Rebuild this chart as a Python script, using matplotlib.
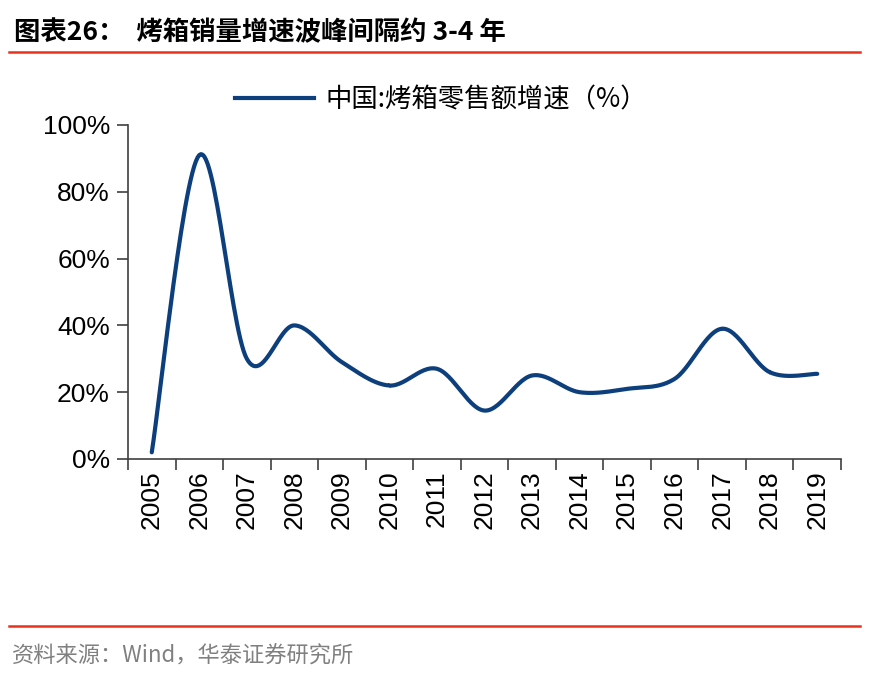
import numpy as np
import matplotlib.pyplot as plt
from matplotlib.lines import Line2D

plt.rcParams['font.family'] = ['Liberation Sans', 'Noto Sans CJK SC', 'DejaVu Sans']

# 数据
years = ['2005', '2006', '2007', '2008', '2009', '2010', '2011', '2012',
         '2013', '2014', '2015', '2016', '2017', '2018', '2019']
growth = [0.02, 0.91, 0.30, 0.40, 0.29, 0.22, 0.27, 0.145,
          0.25, 0.20, 0.21, 0.24, 0.39, 0.26, 0.255]

title = '图表26：  烤箱销量增速波峰间隔约 3-4 年'
legend_label = '中国:烤箱零售额增速（%）'
source = '资料来源：Wind，华泰证券研究所'

line_color = '#0d3f7c'
red = '#e8321e'


# Excel 风格的平滑曲线 (Catmull-Rom)
def smooth(x, y, n=30):
    x = np.asarray(x, float)
    y = np.asarray(y, float)
    px = np.concatenate([[x[0]], x, [x[-1]]])
    py = np.concatenate([[y[0]], y, [y[-1]]])
    xs, ys = [], []
    t = np.linspace(0, 1, n)
    for i in range(1, len(px) - 2):
        for p, out in ((px, xs), (py, ys)):
            p0, p1, p2, p3 = p[i - 1], p[i], p[i + 1], p[i + 2]
            out.extend(0.5 * (2 * p1 + (-p0 + p2) * t
                              + (2 * p0 - 5 * p1 + 4 * p2 - p3) * t ** 2
                              + (-p0 + 3 * p1 - 3 * p2 + p3) * t ** 3))
    return np.array(xs), np.array(ys)


fig = plt.figure(figsize=(8.69, 6.74), dpi=100)
ax = fig.add_axes([128 / 869, 1 - 459 / 674, (841 - 128) / 869, (459 - 125) / 674])

xi = np.arange(len(years))
sx, sy = smooth(xi, growth)
ax.plot(sx, sy, color=line_color, lw=3, solid_capstyle='round')

ax.set_xlim(-0.5, len(years) - 0.5)
ax.set_ylim(0, 1.0)
ax.set_yticks(np.arange(0, 1.01, 0.2))
ax.set_yticklabels(['%d%%' % round(v * 100) for v in np.arange(0, 1.01, 0.2)], fontsize=19)
ax.set_xticks(xi)
ax.set_xticklabels(years, rotation=90, fontsize=19)
ax.tick_params(axis='x', length=0, pad=8)
ax.set_xticks(np.arange(-0.5, len(years)), minor=True)
ax.tick_params(axis='x', which='minor', length=8, width=1.2, color='#404040')
ax.tick_params(axis='y', length=8, width=1.2, color='#404040', pad=5)
for s in ['top', 'right']:
    ax.spines[s].set_visible(False)
for s in ['left', 'bottom']:
    ax.spines[s].set_color('#404040')
    ax.spines[s].set_linewidth(1.2)

# 图例
handle = Line2D([], [], color=line_color, lw=3)
fig.legend([handle], [legend_label], loc='center', bbox_to_anchor=(441 / 869, 1 - 100 / 674),
           frameon=False, handlelength=3.0, handletextpad=0.4,
           prop={'family': ['Noto Sans CJK SC', 'DejaVu Sans'], 'size': 19})

# 标题与来源
fig.text(14 / 869, 1 - 33 / 674, title, fontsize=19, fontweight='bold',
         family=['Noto Sans CJK SC', 'DejaVu Sans'], va='center', ha='left')
fig.add_artist(Line2D([9 / 869, 860 / 869], [1 - 52 / 674] * 2, color=red, lw=1.8))
fig.add_artist(Line2D([9 / 869, 860 / 869], [1 - 626 / 674] * 2, color=red, lw=1.8))
fig.text(12 / 869, 1 - 656 / 674, source, fontsize=16, color='#808080',
         family=['Noto Sans CJK SC', 'DejaVu Sans'], va='center', ha='left')

fig.savefig('out.png', dpi=100)
